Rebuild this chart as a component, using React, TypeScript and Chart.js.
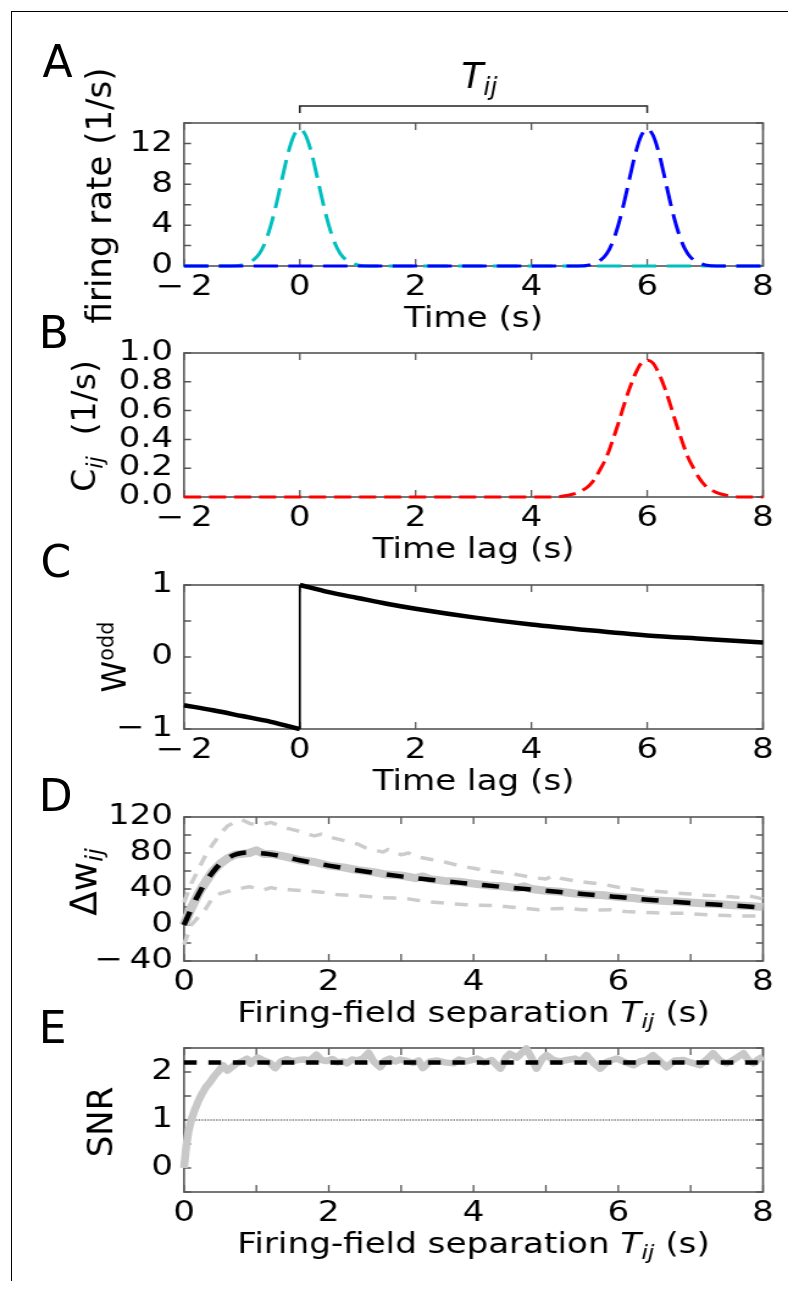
import React, { useEffect, useRef } from 'react';
import { Chart, registerables } from 'chart.js';

Chart.register(...registerables);

// ---------- layout constants (page px) ----------
const PAGE_W = 788;
const CANVAS_W = 646;
const SX = PAGE_W / CANVAS_W; // horizontal stretch of the plot canvases
const FONT = "'DejaVu Sans', 'Liberation Sans', Arial, sans-serif";
const SPINE = '#555555';
const PLOT_LEFT = 184;
const PLOT_RIGHT = 763;
const X_AXIS_BOX = 40;

// ---------- Panel A: firing rates ----------
const aXTicks = [-2, 0, 2, 4, 6, 8];
const aXLabels = [-2, 0, 2, 4, 6, 8];
const aYTicks = [0, 2, 4, 6, 8, 10, 12, 14];
const aYLabels = [0, 4, 8, 12];
const aBracket = [0, 6];
const aCyanX = [-2, -1.2, -1.0, -0.9, -0.8, -0.7, -0.6, -0.5, -0.4, -0.3, -0.2, -0.1, 0, 0.1, 0.2, 0.3, 0.4, 0.5, 0.6, 0.7, 0.8, 0.9, 1.0, 1.2, 8];
const aCyanY = [0, 0, 0.1, 0.3, 0.6, 1.2, 2.3, 4.0, 6.2, 8.7, 11.1, 12.8, 13.4, 12.8, 11.1, 8.7, 6.2, 4.0, 2.3, 1.2, 0.6, 0.3, 0.1, 0, 0];
const aBlueX = [-2, 4.8, 5.0, 5.1, 5.2, 5.3, 5.4, 5.5, 5.6, 5.7, 5.8, 5.9, 6.0, 6.1, 6.2, 6.3, 6.4, 6.5, 6.6, 6.7, 6.8, 6.9, 7.0, 7.2, 8];
const aBlueY = [0, 0, 0.1, 0.3, 0.6, 1.2, 2.3, 4.0, 6.2, 8.7, 11.1, 12.8, 13.4, 12.8, 11.1, 8.7, 6.2, 4.0, 2.3, 1.2, 0.6, 0.3, 0.1, 0, 0];

// ---------- Panel B: cross-correlation ----------
const bXTicks = [-2, 0, 2, 4, 6, 8];
const bXLabels = [-2, 0, 2, 4, 6, 8];
const bYTicks = [0, 0.2, 0.4, 0.6, 0.8, 1.0];
const bYLabels = [0, 0.2, 0.4, 0.6, 0.8, 1.0];
const bRedX = [-2, 4.4, 4.6, 4.8, 5.0, 5.1, 5.2, 5.3, 5.4, 5.5, 5.6, 5.7, 5.8, 5.9, 6.0, 6.1, 6.2, 6.3, 6.4, 6.5, 6.6, 6.7, 6.8, 6.9, 7.0, 7.2, 7.4, 7.6, 8];
const bRedY = [0, 0, 0.01, 0.03, 0.08, 0.13, 0.2, 0.28, 0.39, 0.51, 0.64, 0.76, 0.86, 0.93, 0.95, 0.93, 0.86, 0.76, 0.64, 0.51, 0.39, 0.28, 0.2, 0.13, 0.08, 0.03, 0.01, 0, 0];

// ---------- Panel C: odd window ----------
const cXTicks = [-2, 0, 2, 4, 6, 8];
const cXLabels = [-2, 0, 2, 4, 6, 8];
const cYTicks = [-1, -0.5, 0, 0.5, 1];
const cYLabels = [-1, 0, 1];
const cNegX = [-2, -1.5, -1, -0.5, 0];
const cNegY = [-0.67, -0.74, -0.82, -0.9, -1.0];
const cJumpX = [0, 0];
const cJumpY = [-1, 1];
const cPosX = [0, 0.5, 1, 1.5, 2, 3, 4, 5, 6, 7, 8];
const cPosY = [1.0, 0.9, 0.82, 0.74, 0.67, 0.55, 0.45, 0.37, 0.3, 0.25, 0.2];

// ---------- Panel D: weight change ----------
const dXTicks = [0, 1, 2, 3, 4, 5, 6, 7, 8];
const dXLabels = [0, 2, 4, 6, 8];
const dYTicks = [-40, -20, 0, 20, 40, 60, 80, 100, 120];
const dYLabels = [-40, 0, 40, 80, 120];
const dTheoryX = [0, 0.1, 0.2, 0.3, 0.4, 0.5, 0.6, 0.7, 0.8, 0.9, 1.0, 1.2, 1.4, 1.6, 1.8, 2.0, 2.5, 3.0, 3.5, 4.0, 4.5, 5.0, 5.5, 6.0, 6.5, 7.0, 7.5, 8.0];
const dTheoryY = [0, 18, 34, 48, 59, 68, 74, 78, 80, 80.5, 80, 78.5, 75.5, 72, 69, 66, 59.5, 54, 49.5, 45.5, 41.5, 38, 34.5, 31, 27.5, 24.5, 22, 19.5];
const dMeanX = [0, 0.1, 0.2, 0.3, 0.4, 0.5, 0.6, 0.7, 0.8, 0.9, 1.0, 1.1, 1.2, 1.4, 1.6, 1.8, 2.0, 2.2, 2.4, 2.6, 2.8, 3.0, 3.2, 3.3, 3.4, 3.6, 3.8, 4.0, 4.2, 4.4, 4.6, 4.7, 4.8, 5.0, 5.2, 5.4, 5.6, 5.8, 6.0, 6.2, 6.4, 6.6, 6.8, 7.0, 7.2, 7.4, 7.6, 7.8, 8.0];
const dMeanY = [0, 19, 35, 48, 60, 68, 74, 78, 79, 80, 83, 79, 79, 76, 72, 70, 66, 64, 61, 59, 56, 55, 52, 54, 51, 49, 48, 46, 44, 43, 41, 43, 40, 38, 37, 35, 34, 33, 31, 30, 28, 27, 26, 25, 24, 23, 22, 21, 20];
const dUpperX = [0, 0.1, 0.2, 0.3, 0.4, 0.5, 0.6, 0.7, 0.8, 0.9, 1.0, 1.1, 1.2, 1.3, 1.4, 1.5, 1.6, 1.7, 1.8, 1.9, 2.0, 2.2, 2.4, 2.5, 2.6, 2.75, 2.82, 2.9, 3.0, 3.1, 3.2, 3.4, 3.6, 3.8, 4.0, 4.2, 4.4, 4.6, 4.8, 5.0, 5.1, 5.2, 5.4, 5.6, 5.8, 6.0, 6.2, 6.4, 6.6, 6.8, 7.0, 7.2, 7.4, 7.6, 7.7, 7.8, 8.0];
const dUpperY = [25, 46, 62, 78, 90, 101, 110, 114, 117, 113, 111, 112, 114, 111, 108, 106, 104, 101, 99, 101, 98, 94, 90, 86, 84, 81, 84, 82, 78, 80, 76, 73, 70, 66, 63, 60, 58, 56, 53, 51, 55, 52, 49, 47, 45, 42, 40, 38, 37, 35.5, 34.5, 33, 32.5, 31, 30.5, 32.5, 29];
const dLowerX = [0, 0.1, 0.2, 0.3, 0.4, 0.5, 0.6, 0.7, 0.8, 0.9, 1.0, 1.1, 1.2, 1.3, 1.5, 1.7, 1.9, 2.1, 2.3, 2.5, 2.7, 2.9, 3.1, 3.3, 3.5, 3.7, 3.9, 4.1, 4.3, 4.5, 4.7, 4.9, 5.1, 5.3, 5.5, 5.7, 5.9, 6.1, 6.3, 6.5, 6.7, 6.9, 7.1, 7.3, 7.5, 7.7, 8.0];
const dLowerY = [-22, 0, 9, 18, 31, 35, 37, 40, 41, 42.5, 41, 39, 41.5, 40, 39, 38, 36.5, 34, 33, 32, 30.5, 30, 29, 26.5, 25, 23.5, 22.5, 22, 21.5, 20, 18.5, 17, 18, 18.5, 17, 16.5, 17, 15, 14, 13.5, 13, 13, 12, 11, 10.5, 10, 10];

// ---------- Panel E: SNR ----------
const eXTicks = [0, 1, 2, 3, 4, 5, 6, 7, 8];
const eXLabels = [0, 2, 4, 6, 8];
const eYTicks = [-0.5, 0, 0.5, 1, 1.5, 2, 2.5];
const eYLabels = [0, 1, 2];
const eSnrX = [0, 0.03, 0.06, 0.1, 0.15, 0.2, 0.25, 0.3, 0.36, 0.42, 0.48, 0.54, 0.6, 0.66, 0.73, 0.8, 0.87, 0.92, 0.96, 1.02, 1.1, 1.18, 1.26, 1.34, 1.42, 1.5, 1.58, 1.66, 1.74, 1.83, 1.9, 1.97, 2.05, 2.12, 2.2, 2.25, 2.32, 2.39, 2.47, 2.55, 2.62, 2.71, 2.78, 2.85, 2.92, 2.99, 3.08, 3.17, 3.24, 3.3, 3.4, 3.5, 3.6, 3.72, 3.8, 3.9, 4.05, 4.15, 4.25, 4.37, 4.45, 4.5, 4.6, 4.73, 4.8, 4.87, 4.95, 5.01, 5.1, 5.2, 5.29, 5.4, 5.48, 5.56, 5.65, 5.75, 5.85, 5.98, 6.1, 6.21, 6.3, 6.4, 6.48, 6.58, 6.67, 6.78, 6.9, 7.0, 7.13, 7.22, 7.31, 7.4, 7.5, 7.6, 7.73, 7.8, 7.87, 7.93, 8.0];
const eSnrY = [0, 0.45, 0.75, 1.0, 1.22, 1.4, 1.55, 1.68, 1.79, 1.92, 2.02, 2.14, 2.03, 2.1, 2.18, 2.22, 2.28, 2.17, 2.24, 2.3, 2.24, 2.2, 2.08, 2.22, 2.27, 2.22, 2.25, 2.26, 2.24, 2.36, 2.25, 2.23, 2.27, 2.2, 2.22, 2.18, 2.26, 2.24, 2.28, 2.4, 2.22, 2.1, 2.24, 2.28, 2.22, 2.26, 2.23, 2.19, 2.24, 2.08, 2.22, 2.24, 2.2, 2.18, 2.26, 2.22, 2.28, 2.2, 2.25, 2.07, 2.3, 2.38, 2.3, 2.49, 2.3, 2.07, 2.28, 2.35, 2.25, 2.22, 2.25, 2.28, 2.22, 2.35, 2.2, 2.07, 2.22, 2.28, 2.2, 2.14, 2.22, 2.26, 2.35, 2.22, 2.1, 2.24, 2.25, 2.2, 2.14, 2.26, 2.39, 2.24, 2.18, 2.26, 2.39, 2.24, 2.18, 2.26, 2.32];
const eTheoryX = [0, 8];
const eTheoryY = [2.2, 2.2];
const eRefX = [0, 8];
const eRefY = [1, 1];

// ---------- helpers ----------
type Seg = { t: string; it?: boolean; sub?: boolean; sup?: boolean };
type Rich = { segs: Seg[]; size: number; script?: number; shift?: number };

const fmtInt = (v: number) => (v < 0 ? '\u2212\u2009' + Math.abs(v) : String(v));
const fmtDec = (v: number) => v.toFixed(1);
const has = (arr: number[], v: number) => arr.some((a) => Math.abs(a - v) < 1e-9);

function drawRich(ctx: CanvasRenderingContext2D, rt: Rich, cx: number, by: number, unstretch: boolean) {
  ctx.save();
  ctx.translate(cx, by);
  if (unstretch) ctx.scale(1 / SX, 1);
  const script = rt.script ?? 0.7;
  const parts = rt.segs.map((s) => {
    const fs = s.sub || s.sup ? rt.size * script : rt.size;
    const font = `${s.it ? 'italic ' : ''}${fs}px ${FONT}`;
    ctx.font = font;
    const w = ctx.measureText(s.t).width;
    const dy = s.sub ? rt.shift ?? 6 : s.sup ? -(rt.shift ?? 12) : 0;
    return { t: s.t, font, w, dy };
  });
  const total = parts.reduce((a, p) => a + p.w, 0);
  let x = -total / 2;
  ctx.fillStyle = '#000';
  ctx.textAlign = 'left';
  ctx.textBaseline = 'alphabetic';
  for (const p of parts) {
    ctx.font = p.font;
    ctx.fillText(p.t, x, p.dy);
    x += p.w;
  }
  ctx.restore();
}

function line(xs: number[], ys: number[], color: string, width: number, dash: number[], extra: any = {}) {
  return {
    data: xs.map((x, i) => ({ x, y: ys[i] })),
    showLine: true,
    borderColor: color,
    backgroundColor: color,
    borderWidth: width,
    borderDash: dash,
    borderCapStyle: 'butt',
    borderJoinStyle: 'round',
    pointRadius: 0,
    pointHoverRadius: 0,
    fill: false,
    clip: 6,
    cubicInterpolationMode: 'monotone',
    ...extra,
  };
}

const timeTitle: Rich = { segs: [{ t: 'Time (s)' }], size: 28 };
const lagTitle: Rich = { segs: [{ t: 'Time lag (s)' }], size: 28 };
const sepTitle: Rich = {
  segs: [{ t: 'Firing-field separation ' }, { t: 'T', it: true }, { t: 'ij', it: true, sub: true }, { t: ' (s)' }],
  size: 28,
  script: 0.7,
  shift: 6,
};
const tijLabel: Rich = { segs: [{ t: 'T', it: true }, { t: 'ij', it: true, sub: true }], size: 36, script: 0.7, shift: 7 };

const panels: any[] = [
  {
    key: 'A', bandTop: 0, bandH: 345, chartTop: 123, chartBottom: 266,
    xMin: -2, xMax: 8, yMin: 0, yMax: 14,
    xTicks: aXTicks, xLabels: aXLabels, yTicks: aYTicks, yLabels: aYLabels, yFmt: fmtInt,
    datasets: [
      line(aCyanX, aCyanY, '#00bfbf', 3, [20, 8.5]),
      line(aBlueX, aBlueY, '#0000ff', 3, [20, 8.5]),
    ],
    xTitle: timeTitle,
    yTitle: { segs: [{ t: 'firing rate (1/s)' }], size: 34 }, yTitleX: 111, yTitleDy: 1,
    extra: (chart: any, ctx: CanvasRenderingContext2D, bandTop: number) => {
      const xs = chart.scales.x;
      const x0 = xs.getPixelForValue(aBracket[0]);
      const x1 = xs.getPixelForValue(aBracket[1]);
      const yb = 106 - bandTop;
      ctx.save();
      ctx.strokeStyle = '#222';
      ctx.lineWidth = 1.5;
      ctx.beginPath();
      ctx.moveTo(x0, yb + 7);
      ctx.lineTo(x0, yb);
      ctx.lineTo(x1, yb);
      ctx.lineTo(x1, yb + 7);
      ctx.stroke();
      ctx.restore();
      drawRich(ctx, tijLabel, (x0 + x1) / 2 + 6 / SX, 88 - bandTop, true);
    },
  },
  {
    key: 'B', bandTop: 300, bandH: 290, chartTop: 353, chartBottom: 497,
    xMin: -2, xMax: 8, yMin: 0, yMax: 1,
    xTicks: bXTicks, xLabels: bXLabels, yTicks: bYTicks, yLabels: bYLabels, yFmt: fmtDec,
    datasets: [line(bRedX, bRedY, '#ff0000', 3, [14, 6.5])],
    xTitle: lagTitle,
    yTitle: { segs: [{ t: 'C' }, { t: 'ij', it: true, sub: true }, { t: '  (1/s)' }], size: 33, script: 0.68, shift: 7 },
    yTitleX: 95, yTitleDy: 1,
  },
  {
    key: 'C', bandTop: 545, bandH: 260, chartTop: 585, chartBottom: 729,
    xMin: -2, xMax: 8, yMin: -1, yMax: 1,
    xTicks: cXTicks, xLabels: cXLabels, yTicks: cYTicks, yLabels: cYLabels, yFmt: fmtInt,
    datasets: [
      line(cNegX, cNegY, '#000', 4.5, []),
      line(cJumpX, cJumpY, '#000', 1.7, [], { cubicInterpolationMode: 'default' }),
      line(cPosX, cPosY, '#000', 4.5, []),
    ],
    xTitle: lagTitle,
    yTitle: { segs: [{ t: 'W' }, { t: 'odd', sup: true }], size: 32, script: 0.65, shift: 12 },
    yTitleX: 126, yTitleDy: 0,
  },
  {
    key: 'D', bandTop: 775, bandH: 262, chartTop: 817, chartBottom: 961,
    xMin: 0, xMax: 8, yMin: -40, yMax: 120,
    xTicks: dXTicks, xLabels: dXLabels, yTicks: dYTicks, yLabels: dYLabels, yFmt: fmtInt,
    datasets: [
      line(dUpperX, dUpperY, '#cccccc', 3.5, [10.7, 9], { cubicInterpolationMode: 'default' }),
      line(dLowerX, dLowerY, '#cccccc', 3.5, [10.7, 9], { cubicInterpolationMode: 'default' }),
      line(dMeanX, dMeanY, '#c8c8c8', 8, [], { cubicInterpolationMode: 'default' }),
      line(dTheoryX, dTheoryY, '#000000', 4.5, [14, 12.3]),
    ],
    xTitle: sepTitle,
    yTitle: { segs: [{ t: '\u0394w' }, { t: 'ij', it: true, sub: true }], size: 36, script: 0.68, shift: 6 },
    yTitleX: 96, yTitleDy: -7,
  },
  {
    key: 'E', bandTop: 1005, bandH: 289, chartTop: 1048, chartBottom: 1192,
    xMin: 0, xMax: 8, yMin: -0.5, yMax: 2.5,
    xTicks: eXTicks, xLabels: eXLabels, yTicks: eYTicks, yLabels: eYLabels, yFmt: fmtInt,
    datasets: [
      line(eRefX, eRefY, '#222222', 1, [1.2, 1.2], { cubicInterpolationMode: 'default' }),
      line(eSnrX, eSnrY, '#c8c8c8', 6.5, [], { cubicInterpolationMode: 'default' }),
      line(eTheoryX, eTheoryY, '#000000', 4.5, [10.4, 9.6], { cubicInterpolationMode: 'default' }),
    ],
    xTitle: sepTitle,
    yTitle: { segs: [{ t: 'SNR' }], size: 34 }, yTitleX: 112, yTitleDy: 2,
  },
];

const letters = [
  { t: 'A', left: 42.5, base: 77 },
  { t: 'B', left: 38.7, base: 348 },
  { t: 'C', left: 40.5, base: 577 },
  { t: 'D', left: 38.7, base: 811 },
  { t: 'E', left: 38.7, base: 1043 },
];
const LETTER_SIZE = 44;

function makePlugin(spec: any) {
  return {
    id: 'mplframe' + spec.key,
    // frame and inward ticks go under the curves so that baseline dashes stay visible
    beforeDatasetsDraw(chart: any) {
      const ctx: CanvasRenderingContext2D = chart.ctx;
      const { left, right, top, bottom } = chart.chartArea;
      const xs = chart.scales.x;
      const ys = chart.scales.y;
      ctx.save();
      ctx.strokeStyle = SPINE;
      ctx.lineWidth = 1.3;
      ctx.beginPath();
      xs.ticks.forEach((t: any) => {
        const p = xs.getPixelForValue(t.value);
        ctx.moveTo(p, bottom);
        ctx.lineTo(p, bottom - 7);
        ctx.moveTo(p, top);
        ctx.lineTo(p, top + 7);
      });
      ctx.stroke();
      ctx.lineWidth = 1.5;
      ctx.beginPath();
      ys.ticks.forEach((t: any) => {
        const p = ys.getPixelForValue(t.value);
        ctx.moveTo(left, p);
        ctx.lineTo(left + 7 / SX, p);
        ctx.moveTo(right, p);
        ctx.lineTo(right - 7 / SX, p);
      });
      ctx.stroke();
      ctx.lineWidth = 1.6;
      ctx.strokeRect(left, top, right - left, bottom - top);
      ctx.restore();
    },
    afterDraw(chart: any) {
      const ctx: CanvasRenderingContext2D = chart.ctx;
      const { left, right, top, bottom } = chart.chartArea;
      drawRich(ctx, spec.xTitle, (left + right) / 2, bottom + 61, false);

      ctx.save();
      ctx.translate(spec.yTitleX / SX, (top + bottom) / 2 + (spec.yTitleDy || 0));
      ctx.scale(1 / SX, 1);
      ctx.rotate(-Math.PI / 2);
      drawRich(ctx, spec.yTitle, 0, 0, false);
      ctx.restore();

      if (spec.extra) spec.extra(chart, ctx, spec.bandTop);
    },
  };
}

function buildConfig(spec: any): any {
  const tickFont = { family: FONT, size: 28, lineHeight: 1.2 };
  // later datasets in the list are painted on top (lower order = drawn last)
  const datasets = spec.datasets.map((d: any, i: number) => ({ ...d, order: -i }));
  return {
    type: 'scatter',
    data: { datasets },
    options: {
      animation: false,
      responsive: false,
      devicePixelRatio: 1,
      events: [],
      layout: {
        autoPadding: false,
        padding: {
          left: 0,
          right: CANVAS_W - PLOT_RIGHT / SX,
          top: spec.chartTop - spec.bandTop,
          bottom: spec.bandH - (spec.chartBottom - spec.bandTop) - X_AXIS_BOX,
        },
      },
      plugins: { legend: { display: false }, tooltip: { enabled: false }, title: { display: false } },
      scales: {
        x: {
          type: 'linear',
          position: 'bottom',
          bounds: 'data',
          min: spec.xMin,
          max: spec.xMax,
          grid: { display: false, drawTicks: false },
          border: { display: false },
          title: { display: false },
          ticks: {
            autoSkip: false,
            maxRotation: 0,
            minRotation: 0,
            padding: 5,
            color: '#000',
            font: tickFont,
            callback: (v: number) => (has(spec.xLabels, v) ? fmtInt(v) : ''),
          },
          afterBuildTicks: (ax: any) => {
            ax.ticks = spec.xTicks.map((v: number) => ({ value: v }));
          },
          afterFit: (ax: any) => {
            ax.height = X_AXIS_BOX;
            ax.paddingLeft = 0;
            ax.paddingRight = 0;
          },
        },
        y: {
          type: 'linear',
          position: 'left',
          bounds: 'data',
          min: spec.yMin,
          max: spec.yMax,
          grid: { display: false, drawTicks: false },
          border: { display: false },
          title: { display: false },
          ticks: {
            autoSkip: false,
            padding: 9,
            color: '#000',
            font: tickFont,
            callback: (v: number) => (has(spec.yLabels, v) ? spec.yFmt(v) : ''),
          },
          afterBuildTicks: (ax: any) => {
            ax.ticks = spec.yTicks.map((v: number) => ({ value: v }));
          },
          afterFit: (ax: any) => {
            ax.width = PLOT_LEFT / SX;
            ax.paddingTop = 0;
            ax.paddingBottom = 0;
          },
        },
      },
    },
    plugins: [makePlugin(spec)],
  };
}

function Panel({ spec }: { spec: any }) {
  const ref = useRef<HTMLCanvasElement>(null);
  useEffect(() => {
    if (!ref.current) return;
    const chart = new Chart(ref.current, buildConfig(spec));
    return () => chart.destroy();
  }, [spec]);
  return (
    <canvas
      ref={ref}
      width={CANVAS_W}
      height={spec.bandH}
      style={{
        position: 'absolute',
        left: 0,
        top: spec.bandTop,
        width: CANVAS_W,
        height: spec.bandH,
        transform: `scaleX(${SX})`,
        transformOrigin: '0 0',
      }}
    />
  );
}

export default function App() {
  return (
    <div style={{ position: 'absolute', left: 0, top: 0, width: PAGE_W, height: 1294, background: '#fff', overflow: 'hidden' }}>
      <div
        style={{
          position: 'absolute',
          left: 10.5,
          top: 10.5,
          width: PAGE_W - 10.5,
          height: 1270,
          borderLeft: '1.5px solid #000',
          borderTop: '1.5px solid #000',
          boxSizing: 'border-box',
        }}
      />
      {panels.map((p) => (
        <Panel key={p.key} spec={p} />
      ))}
      {letters.map((l) => (
        <div
          key={l.t}
          style={{
            position: 'absolute',
            left: l.left,
            top: l.base - 0.846 * LETTER_SIZE,
            fontFamily: FONT,
            fontSize: LETTER_SIZE,
            lineHeight: `${LETTER_SIZE}px`,
            color: '#000',
          }}
        >
          {l.t}
        </div>
      ))}
    </div>
  );
}
